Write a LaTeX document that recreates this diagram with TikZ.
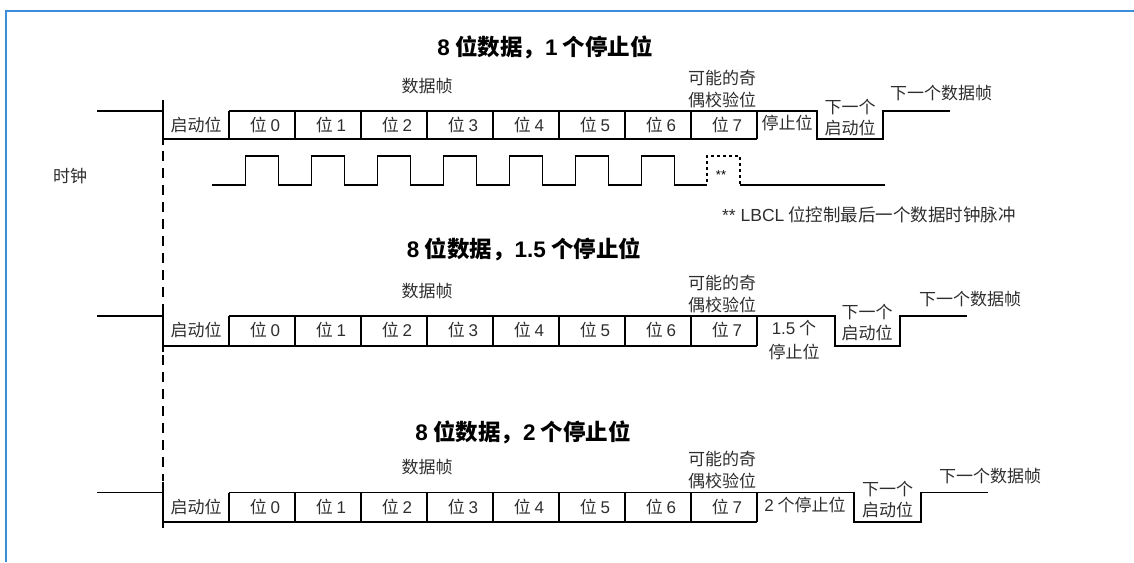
\documentclass[tikz,border=0pt]{standalone}
\usepackage{fontspec}
\setmainfont{Noto Sans CJK SC}
\newfontfamily\lat{Liberation Sans}
\definecolor{frameblue}{HTML}{3C8DDA}
\definecolor{txt}{HTML}{2E2E2E}
\tikzset{
  sig/.style={line width=1.7pt, line join=miter},
  lbl/.style={inner sep=0pt, text=txt, font=\fontsize{17}{22}\selectfont, align=center},
  ttl/.style={inner sep=0pt, text=black, font=\fontsize{22.5}{26}\selectfont\bfseries},
}
\newcommand\bitrow[6]{%
  \draw[sig] (97,#1) -- (163,#1);
  \draw[sig] (163,#1-11) -- (163,#2+6);
  \draw[sig] (163,#2) -- (757,#2);
  \draw[sig] (229,#1) -- (#3,#1) -- (#3,#2) -- (#4,#2) -- (#4,#1) -- (#5,#1);
  \foreach \k in {0,...,8} {\draw[sig] (229+66*\k,#1) -- (229+66*\k,#2);}
  \node[lbl] (#6start) at (196,#1+14) {启动位};
  \foreach \k in {0,...,7} {\node[lbl] (#6b\k) at (265+66*\k,#1+14) {位 {\lat\k}};}
  \node[lbl] (#6frame) at (427,#1-25) {数据帧};
  \node[lbl] (#6par) at (722,#1-22) {可能的奇\\偶校验位};
}
\begin{document}
\begin{tikzpicture}[x=1pt,y=-1pt]
\useasboundingbox (0,0) rectangle (1134,562);
\draw[frameblue, line width=2pt] (6,562) -- (6,10.5) -- (1134,10.5);

% row 1
\node[ttl] (t1) at (545,47) {{\lat 8} 位数据，{\lat 1} 个停止位};
\bitrow{110.7}{139}{817}{883}{950}{ra}
\node[lbl] (rastop) at (787,123) {停止位};
\node[lbl, font=\fontsize{17}{21}\selectfont] (ranext) at (850,118) {下一个\\启动位};
\node[lbl] (raframe2) at (941,93) {下一个数据帧};

% clock
\node[lbl] (clk) at (70,176) {时钟};
\draw[sig] (212,185) foreach \k in {0,...,6} { -- (245.5+66*\k,185) -- (245.5+66*\k,156) -- (278.5+66*\k,156) -- (278.5+66*\k,185) } -- (707,185);
\draw[line width=1.5pt, dash pattern=on 3pt off 3pt] (707,182) -- (707,156) -- (740,156) -- (740,185);
\draw[sig] (740,185) -- (885,185);
\node[inner sep=0pt, font=\lat\fontsize{13}{14}\selectfont] (stars) at (721,175) {**};
\node[lbl, font=\fontsize{17.5}{22}\selectfont] (note) at (869,215) {{\lat ** LBCL} 位控制最后一个数据时钟脉冲};

% dashed guide
\draw[line width=1.7pt, dash pattern=on 10pt off 7pt] (163,151) -- (163,481);

% row 2
\node[ttl] (t2) at (524,249) {{\lat 8} 位数据，{\lat 1.5} 个停止位};
\bitrow{316}{346}{835}{900}{967}{rb}
\node[lbl, font=\fontsize{17}{24}\selectfont] (rbstop) at (794,340) {{\lat 1.5} 个\\停止位};
\node[lbl, font=\fontsize{17}{21}\selectfont] (rbnext) at (867,322.5) {下一个\\启动位};
\node[lbl] (rbframe2) at (970,299) {下一个数据帧};

% row 3
\node[ttl] (t3) at (523,432) {{\lat 8} 位数据，{\lat 2} 个停止位};
\bitrow{492.5}{522}{854}{921}{988}{rc}
\node[lbl] (rcstop) at (805,505) {{\lat 2} 个停止位};
\node[lbl, font=\fontsize{17}{21}\selectfont] (rcnext) at (887.5,499.5) {下一个\\启动位};
\node[lbl] (rcframe2) at (990,476.5) {下一个数据帧};
\end{tikzpicture}
\end{document}
